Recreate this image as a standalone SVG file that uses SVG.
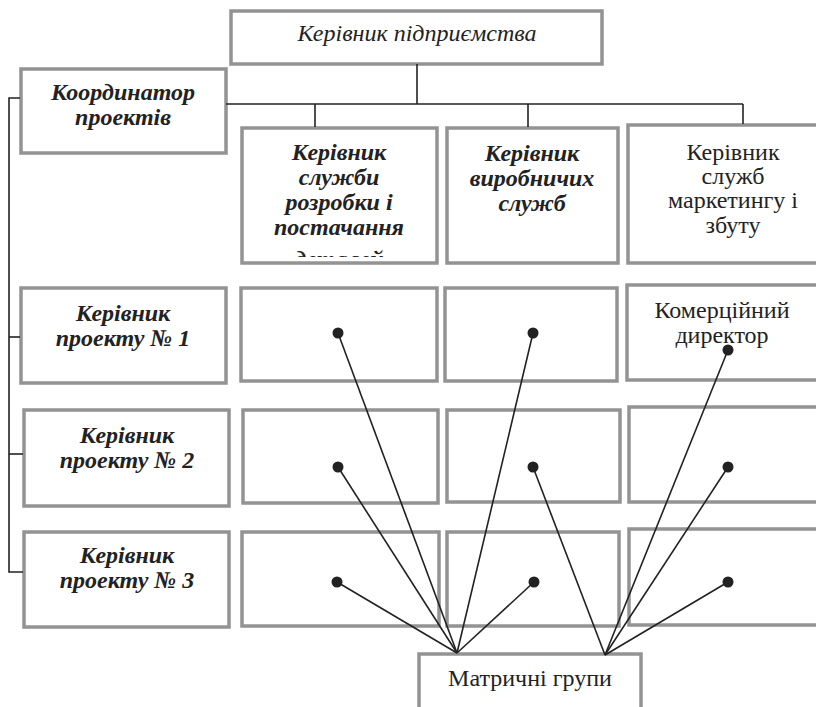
<svg xmlns="http://www.w3.org/2000/svg" width="816" height="707" viewBox="0 0 816 707">
<style>
.box{fill:#fff;stroke:#939393;stroke-width:3.5}
.ln{stroke:#222;stroke-width:1.6;fill:none}
.dot{fill:#222}
.t{font-family:"Liberation Serif","Times New Roman","DejaVu Serif",serif;fill:#222;text-anchor:middle}
.bi{font-weight:bold;font-style:italic;font-size:24px}
.it{font-style:italic;font-size:24px}
.rg{font-size:24px}
</style>
<defs>
<clipPath id="c2"><rect x="244" y="130" width="192" height="127"/></clipPath>
</defs>
<rect width="816" height="707" fill="#fff"/>
<g id="top"><rect class="box" x="231" y="11" width="371" height="53"/><text class="t it" x="417" y="41">Керівник підприємства</text></g>
<g id="coord"><rect class="box" x="21" y="69" width="205" height="84"/><text class="t bi" x="123" y="100">Координатор</text><text class="t bi" x="123" y="125">проектів</text></g>
<g id="dev"><rect class="box" x="242" y="128" width="195" height="135"/>
<g clip-path="url(#c2)"><text class="t bi" x="339" y="160">Керівник</text><text class="t bi" x="339" y="185">служби</text><text class="t bi" x="339" y="210">розробки і</text><text class="t bi" x="339" y="235">постачання</text><text class="t bi" x="339" y="267">деталей</text></g></g>
<g id="prod"><rect class="box" x="447" y="128" width="171" height="135"/><text class="t bi" x="532" y="161">Керівник</text><text class="t bi" x="532" y="186">виробничих</text><text class="t bi" x="532" y="211">служб</text></g>
<g id="mkt"><rect class="box" x="628" y="125" width="200" height="138"/><text class="t rg" x="733" y="160">Керівник</text><text class="t rg" x="733" y="184">служб</text><text class="t rg" x="733" y="208">маркетингу і</text><text class="t rg" x="733" y="233">збуту</text></g>
<g id="p1"><rect class="box" x="21" y="288" width="205" height="95"/><text class="t bi" x="123" y="321">Керівник</text><text class="t bi" x="123" y="346">проекту № 1</text></g>
<g id="p2"><rect class="box" x="24" y="410" width="205" height="96"/><text class="t bi" x="127" y="443">Керівник</text><text class="t bi" x="127" y="468">проекту № 2</text></g>
<g id="p3"><rect class="box" x="24" y="532" width="205" height="95"/><text class="t bi" x="127" y="563">Керівник</text><text class="t bi" x="127" y="588">проекту № 3</text></g>
<g id="r1c2"><rect class="box" x="241" y="288" width="196" height="93"/></g>
<g id="r1c3"><rect class="box" x="445" y="288" width="172" height="93"/></g>
<g id="r1c4"><rect class="box" x="627" y="285" width="200" height="95"/><text class="t rg" x="722" y="318">Комерційний</text><text class="t rg" x="722" y="343">директор</text></g>
<g id="r2c2"><rect class="box" x="243" y="410" width="195" height="93"/></g>
<g id="r2c3"><rect class="box" x="447" y="410" width="173" height="92"/></g>
<g id="r2c4"><rect class="box" x="629" y="407" width="200" height="95"/></g>
<g id="r3c2"><rect class="box" x="242" y="532" width="197" height="94"/></g>
<g id="r3c3"><rect class="box" x="447" y="532" width="172" height="94"/></g>
<g id="r3c4"><rect class="box" x="629" y="529" width="200" height="96"/></g>
<g id="matrix"><rect class="box" x="419" y="654" width="222" height="60"/><text class="t rg" x="530" y="686">Матричні групи</text></g>
<g id="connectors">
<polyline class="ln" points="417,64 417,104"/>
<polyline class="ln" points="226,104 743,104"/>
<polyline class="ln" points="315,104 315,127"/>
<polyline class="ln" points="528,104 528,127"/>
<polyline class="ln" points="743,104 743,124"/>
<polyline class="ln" points="20,98 9,98 9,572 23,572"/>
<line class="ln" x1="9" y1="337" x2="20" y2="337"/>
<line class="ln" x1="9" y1="454" x2="23" y2="454"/>
<line class="ln" x1="457" y1="653" x2="338" y2="333"/>
<line class="ln" x1="457" y1="653" x2="338" y2="467"/>
<line class="ln" x1="457" y1="653" x2="337" y2="582"/>
<line class="ln" x1="457" y1="653" x2="533" y2="333"/>
<line class="ln" x1="457" y1="653" x2="534" y2="582"/>
<line class="ln" x1="605" y1="655" x2="533" y2="467"/>
<line class="ln" x1="605" y1="655" x2="728" y2="350"/>
<line class="ln" x1="605" y1="655" x2="728" y2="467"/>
<line class="ln" x1="605" y1="655" x2="728" y2="582"/>
<circle class="dot" cx="338" cy="333" r="5.5"/><circle class="dot" cx="533" cy="333" r="5.5"/><circle class="dot" cx="728" cy="350" r="5.5"/>
<circle class="dot" cx="338" cy="467" r="5.5"/><circle class="dot" cx="533" cy="467" r="5.5"/><circle class="dot" cx="728" cy="467" r="5.5"/>
<circle class="dot" cx="337" cy="582" r="5.5"/><circle class="dot" cx="534" cy="582" r="5.5"/><circle class="dot" cx="728" cy="582" r="5.5"/>
</g>
</svg>
